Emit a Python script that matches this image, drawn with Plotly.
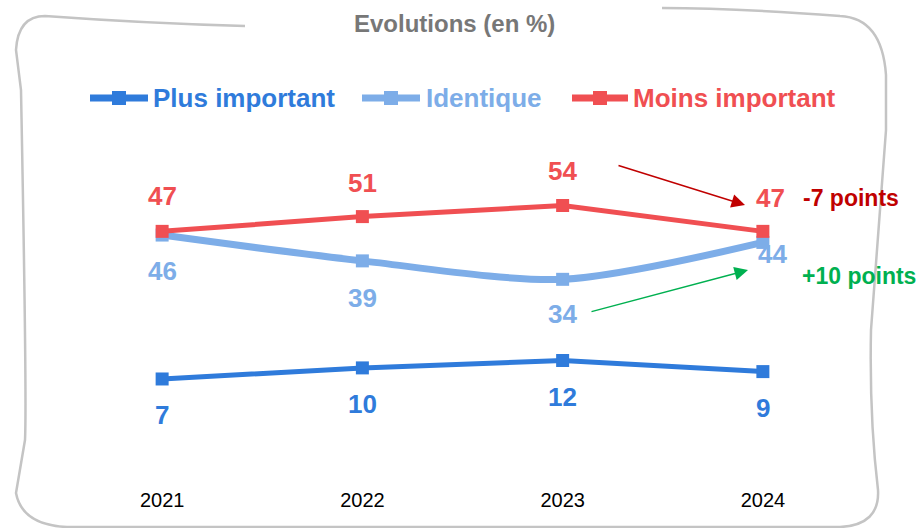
import plotly.graph_objects as go

W, H = 919, 528

years = ["2021", "2022", "2023", "2024"]
plus_important = [7, 10, 12, 9]
identique = [46, 39, 34, 44]
moins_important = [47, 51, 54, 47]

series_names = ["Plus important", "Identique", "Moins important"]
series_colors = ["#2F7BDB", "#7DADE8", "#F04F52"]

FONT = "Liberation Sans, Arial, sans-serif"


def px(x):
    return x / W


def py(y):
    return 1 - y / H


def path(points_str):
    # converts a pixel-space svg path into paper coordinates
    out = []
    for tok in points_str.split():
        if "," in tok:
            a, b = tok.split(",")
            out.append(f"{px(float(a)):.5f},{py(float(b)):.5f}")
        else:
            out.append(tok)
    return " ".join(out)


fig = go.Figure()

series = [plus_important, identique, moins_important]
widths = [5, 7, 5]
line_shapes = ["linear", "spline", "linear"]
for name, vals, col, w, shp in zip(series_names, series, series_colors, widths, line_shapes):
    fig.add_trace(go.Scatter(
        x=years, y=vals, mode="lines+markers", name=name,
        line=dict(color=col, width=w, shape=shp, smoothing=0.8),
        marker=dict(symbol="square", size=13, color=col),
        showlegend=False, hoverinfo="skip",
    ))

annotations = []
# value labels: (dx, dy) offsets in screen pixels, dy positive = downwards
label_offsets = [
    [(0, 36), (0, 36), (0, 36), (0, 36)],
    [(0, 36), (0, 37), (0, 35), (10, 12)],
    [(0, -35), (0, -34), (0, -35), (8, -33)],
]
for vals, col, offs in zip(series, series_colors, label_offsets):
    for j, (v, (dx, dy)) in enumerate(zip(vals, offs)):
        # category axis: use the category index, "2021" would be read as an index
        annotations.append(dict(
            x=j, y=v, xref="x", yref="y", text=f"<b>{v}</b>", showarrow=False,
            xshift=dx, yshift=-dy, xanchor="center", yanchor="middle",
            font=dict(family=FONT, size=26, color=col),
        ))

# legend (drawn by hand so the symbol is as long as in the original)
legend_x = [(90, 148, 151), (362, 420, 424), (572, 628, 631)]
shapes = []
for (x0, x1, xt), name, col in zip(legend_x, series_names, series_colors):
    shapes.append(dict(type="line", xref="paper", yref="paper",
                       x0=px(x0), x1=px(x1), y0=py(98), y1=py(98),
                       line=dict(color=col, width=7)))
    xc = (x0 + x1) / 2
    shapes.append(dict(type="rect", xref="paper", yref="paper",
                       x0=px(xc - 7), x1=px(xc + 7), y0=py(105), y1=py(91),
                       fillcolor=col, line=dict(width=0)))
    annotations.append(dict(x=px(xt), y=py(98), xref="paper", yref="paper",
                            xanchor="left", yanchor="middle", showarrow=False,
                            text=f"<b>{name}</b>",
                            font=dict(family=FONT, size=26, color=col)))

# rounded frame
frame = ("M 245,26 C 170,24 100,20 45,16 Q 18,16 16,50 L 21,90 "
         "C 24,250 27,400 25,440 L 16,493 Q 22,525 67,527 L 840,527 "
         "Q 880,525 878,490 C 872,440 870,380 871,330 L 886,130 "
         "L 886,75 Q 882,18 840,16 C 760,10 700,8 662,8")
shapes.append(dict(type="path", xref="paper", yref="paper", path=path(frame),
                   line=dict(color="#C4C4C4", width=2.5)))

# title
annotations.append(dict(x=px(454), y=py(24), xref="paper", yref="paper",
                        xanchor="center", yanchor="middle",
                        showarrow=False, text="<b>Evolutions (en %)</b>",
                        font=dict(family=FONT, size=24, color="#777777")))

# evolution arrows and notes
annotations.append(dict(x=px(745), y=py(205), ax=-128, ay=-40,
                        xref="paper", yref="paper",
                        showarrow=True, arrowhead=2, arrowsize=1.8, arrowwidth=1.5,
                        arrowcolor="#C00000", text=""))
annotations.append(dict(x=px(748), y=py(270), ax=-158, ay=42,
                        xref="paper", yref="paper",
                        showarrow=True, arrowhead=2, arrowsize=1.8, arrowwidth=1.5,
                        arrowcolor="#00B050", text=""))
annotations.append(dict(x=px(801), y=py(198), xref="paper", yref="paper",
                        xanchor="left", yanchor="middle", showarrow=False,
                        text="<b>-7 points</b>",
                        font=dict(family=FONT, size=23, color="#C00000")))
annotations.append(dict(x=px(800), y=py(276), xref="paper", yref="paper",
                        xanchor="left", yanchor="middle", showarrow=False,
                        text="<b>+10 points</b>",
                        font=dict(family=FONT, size=23, color="#00B050")))

fig.update_layout(
    width=W, height=H,
    margin=dict(l=0, r=0, t=0, b=0),
    paper_bgcolor="white", plot_bgcolor="white",
    showlegend=False,
    annotations=annotations, shapes=shapes,
    xaxis=dict(domain=[px(62), px(863)], range=[-0.5, 3.5], type="category",
               showgrid=False, zeroline=False, showline=False, ticks="",
               tickfont=dict(family=FONT, size=20, color="#000000")),
    yaxis=dict(domain=[py(486), py(176)], range=[-22, 62], visible=False),
)

fig.write_html("out.html", config={"displayModeBar": False},
               post_script="document.body.style.margin = '0';")
